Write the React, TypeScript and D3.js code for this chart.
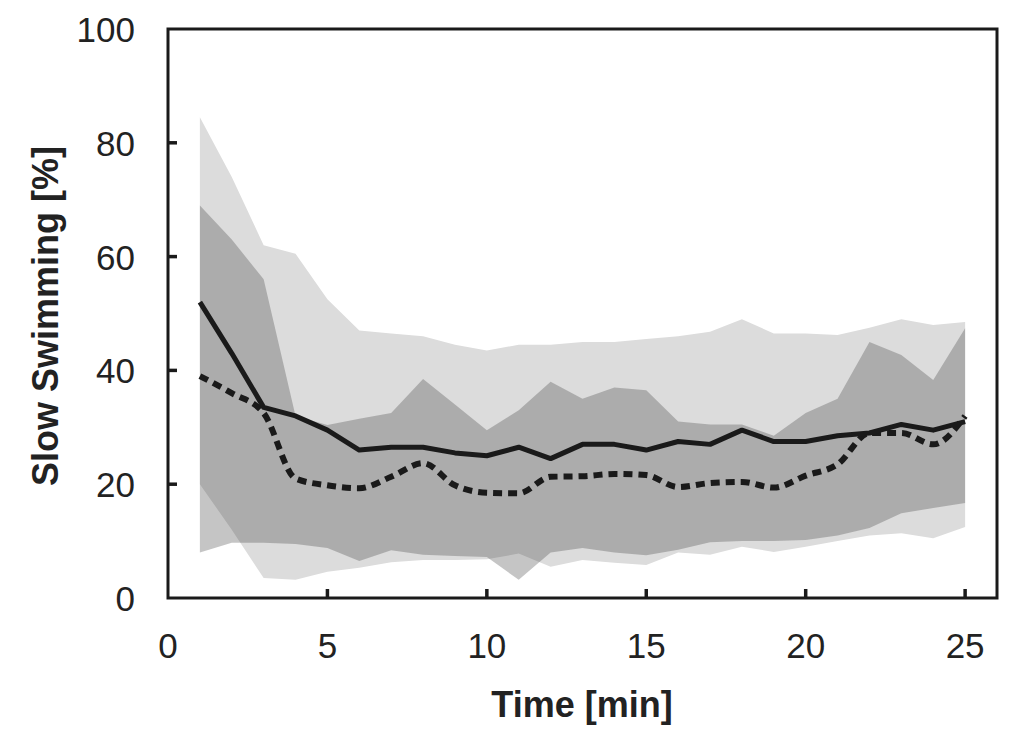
import * as d3 from 'd3'

const times = [1, 2, 3, 4, 5, 6, 7, 8, 9, 10, 11, 12, 13, 14, 15, 16, 17, 18, 19, 20, 21, 22, 23, 24, 25]
const solidMean = [52, 43, 33.5, 32, 29.5, 26, 26.5, 26.5, 25.5, 25, 26.5, 24.5, 27, 27, 26, 27.5, 27, 29.5, 27.5, 27.5, 28.5, 29, 30.5, 29.5, 31]
const dashedMean = [39, 36, 32.5, 21, 19.8, 19.3, 21.3, 23.7, 19.8, 18.5, 18.4, 21.3, 21.4, 21.8, 21.6, 19.5, 20.2, 20.4, 19.4, 21.5, 23.5, 29, 29, 27, 32]
const solidUpper = [84.5, 74, 62, 60.5, 52.5, 47, 46.5, 46, 44.5, 43.5, 44.5, 44.5, 45, 45, 45.5, 46, 46.8, 49, 46.5, 46.5, 46.2, 47.5, 49, 48, 48.5]
const solidLower = [20, 12, 3.5, 3.2, 4.6, 5.3, 6.3, 6.7, 6.7, 6.8, 7.8, 5.5, 6.7, 6.2, 5.8, 8, 7.6, 9, 8.1, 9, 10, 11, 11.4, 10.5, 12.5]
const dashedUpper = [69, 63, 56, 32, 30.4, 31.5, 32.5, 38.5, 34, 29.5, 33, 38, 35, 37, 36.5, 31, 30.5, 30.5, 28.5, 32.5, 35, 45, 42.7, 38.3, 47.4]
const dashedLower = [8, 9.7, 9.7, 9.5, 8.8, 6.5, 8.4, 7.6, 7.4, 7.2, 3.2, 8, 8.8, 8, 7.5, 8.5, 9.8, 10, 10, 10.2, 11, 12.3, 14.9, 15.8, 16.7]
const xTicks = [0, 5, 10, 15, 20, 25]
const yTicks = [0, 20, 40, 60, 80, 100]

const W = 1024
const H = 737
const font = '"Liberation Sans", Arial, Helvetica, sans-serif'

export default function App() {
  const x = d3.scaleLinear().domain([0, 26]).range([168, 997])
  const y = d3.scaleLinear().domain([0, 100]).range([598, 29])

  const band = (lo: number[], hi: number[]) =>
    d3
      .area<number>()
      .x((t) => x(t))
      .y0((_, i) => y(lo[i]))
      .y1((_, i) => y(hi[i]))(times) || ''

  const solidLine = d3.line<number>().x((t) => x(t)).y((_, i) => y(solidMean[i]))(times) || ''
  const dashedLine =
    d3
      .line<number>()
      .x((t) => x(t))
      .y((_, i) => y(dashedMean[i]))
      .curve(d3.curveMonotoneX)(times) || ''

  const [x0, x1] = x.range()
  const [y0, y1] = y.range()

  return (
    <svg width={W} height={H} style={{ position: 'absolute', left: 0, top: 0, background: '#fff' }}>
      {/* ranges: light band under, darker translucent band on top */}
      <path d={band(solidLower, solidUpper)} fill="#dcdcdc" />
      <path d={band(dashedLower, dashedUpper)} fill="#383838" fillOpacity={0.29} />

      <path d={dashedLine} fill="none" stroke="#1a1a1a" strokeWidth={6} strokeDasharray="9 6" />
      <path d={solidLine} fill="none" stroke="#1a1a1a" strokeWidth={5} strokeLinejoin="round" />

      {/* frame */}
      <rect x={x0} y={y1} width={x1 - x0} height={y0 - y1} fill="none" stroke="#1a1a1a" strokeWidth={3} />

      {xTicks.map((t) => (
        <g key={'x' + t}>
          {t > 0 && <line x1={x(t)} x2={x(t)} y1={y0} y2={y0 - 9} stroke="#1a1a1a" strokeWidth={3.5} />}
          <text x={x(t)} y={y0 + 60} textAnchor="middle" fontFamily={font} fontSize={35} fill="#222">
            {t}
          </text>
        </g>
      ))}
      {yTicks.map((v) => (
        <g key={'y' + v}>
          {v > 0 && v < 100 && <line x1={x0} x2={x0 + 9} y1={y(v)} y2={y(v)} stroke="#1a1a1a" strokeWidth={3.5} />}
          <text x={135} y={y(v) + 13} textAnchor="end" fontFamily={font} fontSize={35} fill="#222">
            {v}
          </text>
        </g>
      ))}

      <text x={582} y={717} textAnchor="middle" fontFamily={font} fontSize={36} fontWeight="bold" fill="#222">
        Time [min]
      </text>
      <text
        transform={`translate(58,316) rotate(-90)`}
        textAnchor="middle"
        fontFamily={font}
        fontSize={36}
        fontWeight="bold"
        fill="#222"
      >
        Slow Swimming [%]
      </text>
    </svg>
  )
}
